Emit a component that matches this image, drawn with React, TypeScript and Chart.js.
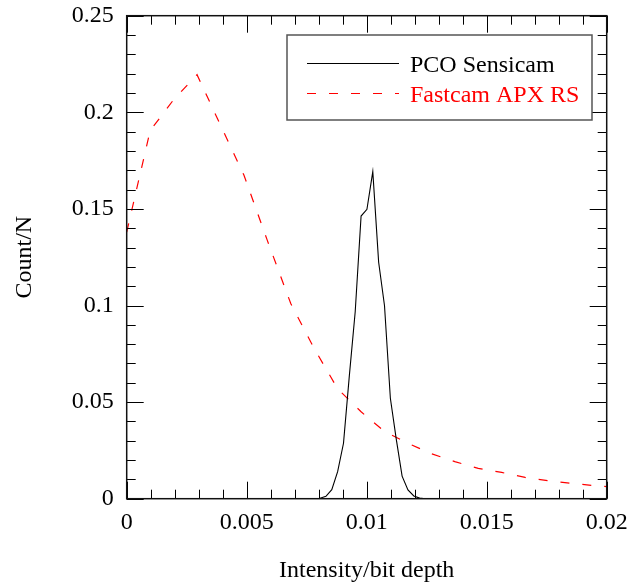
import React, { useEffect, useRef } from 'react';
import { Chart, registerables } from 'chart.js';

Chart.register(...registerables);

const seriesNames = ['PCO Sensicam', 'Fastcam APX RS'];
const seriesColors = ['#000000', '#ff0000'];

const pcoX = [0.007324, 0.007568, 0.007813, 0.008057, 0.008301, 0.008545, 0.008789, 0.009033, 0.009277, 0.009521, 0.009766, 0.01001, 0.010254, 0.010498, 0.010742, 0.010986, 0.01123, 0.011475, 0.011719, 0.011963, 0.012207, 0.012451];
const pcoY = [0, 0, 0, 0.0002, 0.0012, 0.0047, 0.014, 0.0287, 0.0637, 0.0968, 0.1463, 0.1498, 0.1693, 0.1224, 0.0999, 0.052, 0.031, 0.0117, 0.0045, 0.0014, 0.0003, 0];

const fastX = [0, 0.000977, 0.001953, 0.00293, 0.003906, 0.004883, 0.005859, 0.006836, 0.007813, 0.008789, 0.009766, 0.010742, 0.011719, 0.012695, 0.013672, 0.014648, 0.015625, 0.016602, 0.017578, 0.018555, 0.019531, 0.020508];
const fastY = [0.138, 0.1905, 0.2065, 0.2195, 0.1934, 0.1675, 0.1337, 0.101, 0.0777, 0.0569, 0.045, 0.0348, 0.0287, 0.0233, 0.0192, 0.0157, 0.0136, 0.011, 0.0093, 0.0079, 0.0067, 0.0058];

const xTickLabels = ['0', '0.005', '0.01', '0.015', '0.02'];
const yTickLabels = ['0', '0.05', '0.1', '0.15', '0.2', '0.25'];
const xTitle = 'Intensity/bit depth';
const yTitle = 'Count/N';

const W = 631;
const H = 587;
const FONT = 'Liberation Serif';

const frameTicks = {
  id: 'frameTicks',
  afterDatasetsDraw(chart: any) {
    const { ctx, chartArea: a, scales } = chart;
    const x = scales.x;
    const y = scales.y;
    ctx.save();
    ctx.strokeStyle = '#000';
    ctx.lineWidth = 1;
    const seg = (x1: number, y1: number, x2: number, y2: number) => {
      ctx.beginPath();
      ctx.moveTo(x1, y1);
      ctx.lineTo(x2, y2);
      ctx.stroke();
    };
    for (let i = 0; i <= 20; i++) {
      const px = Math.round(x.getPixelForValue(i * 0.001)) + 0.5;
      const len = i % 5 === 0 ? 17 : 9;
      seg(px, a.bottom, px, a.bottom - len);
      seg(px, a.top, px, a.top + len);
    }
    for (let i = 0; i <= 25; i++) {
      const py = Math.round(y.getPixelForValue(i * 0.01)) + 0.5;
      const len = i % 5 === 0 ? 17 : 9;
      seg(a.left, py, a.left + len, py);
      seg(a.right, py, a.right - len, py);
    }
    ctx.lineWidth = 1.5;
    ctx.strokeStyle = '#111';
    ctx.strokeRect(a.left, a.top, a.right - a.left, a.bottom - a.top);

    // legend
    const bx0 = 287, by0 = 35, bx1 = 592, by1 = 120;
    ctx.fillStyle = '#fff';
    ctx.fillRect(bx0, by0, bx1 - bx0, by1 - by0);
    ctx.strokeStyle = '#555';
    ctx.lineWidth = 1.5;
    ctx.strokeRect(bx0, by0, bx1 - bx0, by1 - by0);
    const rows = [63, 93];
    chart.data.datasets.forEach((ds: any, i: number) => {
      ctx.strokeStyle = ds.borderColor;
      ctx.lineWidth = ds.borderWidth;
      ctx.setLineDash(ds.borderDash || []);
      ctx.beginPath();
      ctx.moveTo(307, rows[i] + 0.5);
      ctx.lineTo(399, rows[i] + 0.5);
      ctx.stroke();
      ctx.setLineDash([]);
      ctx.fillStyle = ds.borderColor;
      ctx.font = `24px "${FONT}"`;
      ctx.textBaseline = 'alphabetic';
      ctx.textAlign = 'left';
      ctx.fillText(ds.label, 410, rows[i] + 9);
    });
    ctx.restore();
  },
};

export default function App() {
  const ref = useRef<HTMLCanvasElement>(null);
  useEffect(() => {
    if (!ref.current) return;
    const chart = new Chart(ref.current, {
      type: 'line',
      data: {
        datasets: [
          {
            label: seriesNames[0],
            data: pcoX.map((v, i) => ({ x: v, y: pcoY[i] })),
            borderColor: seriesColors[0],
            borderWidth: 1.1,
            pointRadius: 0,
            tension: 0,
            fill: false,
          },
          {
            label: seriesNames[1],
            data: fastX.map((v, i) => ({ x: v, y: fastY[i] })),
            borderColor: seriesColors[1],
            borderWidth: 1.2,
            borderDash: [9, 13],
            pointRadius: 0,
            tension: 0,
            fill: false,
          },
        ],
      },
      options: {
        responsive: false,
        animation: false,
        devicePixelRatio: 1,
        layout: { padding: { top: 15.7, right: 24.3, left: 0, bottom: 0 } },
        plugins: { legend: { display: false }, tooltip: { enabled: false } },
        scales: {
          x: {
            type: 'linear',
            min: 0,
            max: 0.02,
            grid: { display: false, drawTicks: true, tickLength: 10 },
            border: { display: false },
            ticks: {
              stepSize: 0.005,
              autoSkip: false,
              maxRotation: 0,
              padding: 0,
              color: '#000',
              font: { family: FONT, size: 24 },
              callback: (_v: any, i: number) => xTickLabels[i] ?? '',
            },
            title: {
              display: true,
              text: xTitle,
              color: '#000',
              font: { family: FONT, size: 24 },
              padding: { top: 0, bottom: 2 },
            },
            afterFit: (s: any) => { s.height = 88.3; },
          },
          y: {
            type: 'linear',
            min: 0,
            max: 0.25,
            grid: { display: false, drawTicks: true, tickLength: 13 },
            border: { display: false },
            ticks: {
              stepSize: 0.05,
              autoSkip: false,
              padding: 0,
              color: '#000',
              font: { family: FONT, size: 24 },
              callback: (_v: any, i: number) => yTickLabels[i] ?? '',
            },
            title: {
              display: true,
              text: yTitle,
              color: '#000',
              font: { family: FONT, size: 24 },
              padding: { top: 10, bottom: 0 },
            },
            afterFit: (s: any) => { s.width = 126.7; },
          },
        },
      },
      plugins: [frameTicks],
    });
    return () => chart.destroy();
  }, []);
  return (
    <div style={{ position: 'fixed', left: 0, top: 0, width: W, height: H, background: '#fff' }}>
      <canvas ref={ref} width={W} height={H} style={{ display: 'block', width: W, height: H }} />
    </div>
  );
}
